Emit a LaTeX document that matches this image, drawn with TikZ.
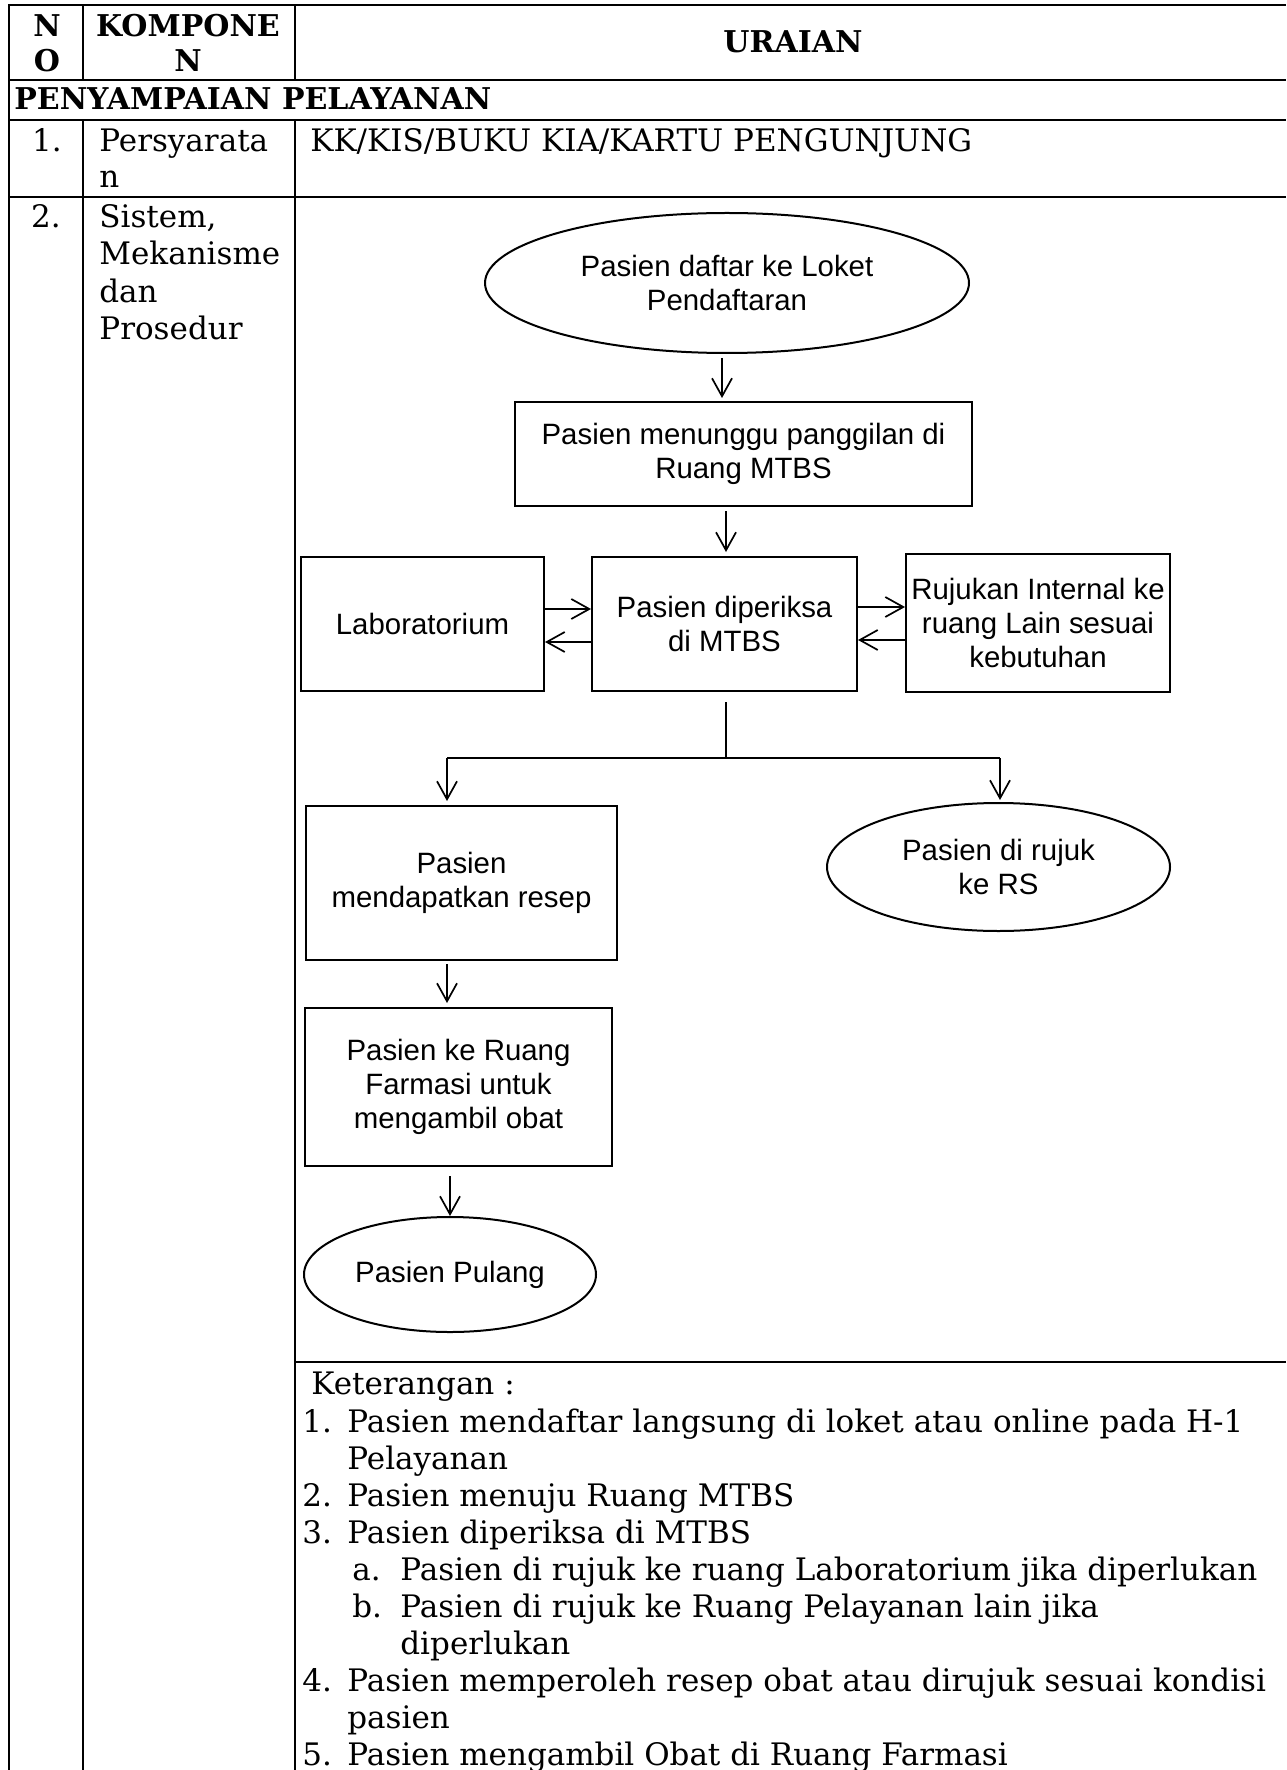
\documentclass[tikz,border=0pt]{standalone}
\usepackage{fontspec}
\setmainfont{DejaVu Serif}
\newfontfamily\arialf{Liberation Sans}
\usetikzlibrary{shapes.geometric,arrows.meta}
\begin{document}
\begin{tikzpicture}[x=0.5pt,y=-0.5pt,
  tline/.style={line width=1.15pt},
  cline/.style={line width=0.85pt},
  arr/.style={cline,-{Straight Barb[length=9pt,width=10pt]}},
  fbox/.style={draw,rectangle,line width=1pt,align=center,inner sep=0pt,
    font=\arialf\fontsize{14.7}{17}\selectfont},
  fell/.style={draw,ellipse,line width=1pt,align=center,inner sep=0pt,
    font=\arialf\fontsize{14.7}{17}\selectfont},
  txt/.style={anchor=base west,inner sep=0pt,font=\fontsize{15.5}{18}\selectfont},
  ctxt/.style={anchor=base,inner sep=0pt,font=\fontsize{15.5}{18}\selectfont},
  hd/.style={anchor=base,inner sep=0pt,font=\fontsize{15}{18}\selectfont\bfseries},
]
\useasboundingbox (0,0) rectangle (1286,1770);
\fill[white] (0,0) rectangle (1286,1770);

% ---- table grid ----
\draw[tline] (9,1770) -- (9,5) -- (1286,5);
\draw[tline] (9,80) -- (1286,80);
\draw[tline] (9,120) -- (1286,120);
\draw[tline] (9,197) -- (1286,197);
\draw[tline] (295,1362) -- (1286,1362);
\draw[tline] (83,5) -- (83,80);
\draw[tline] (83,120) -- (83,1770);
\draw[tline] (295,5) -- (295,80);
\draw[tline] (295,120) -- (295,1770);

% ---- header texts ----
\node[hd] (hN) at (47,37) {N};
\node[hd] (hO) at (47,72) {O};
\node[hd] (hK1) at (188,37) {KOMPONE};
\node[hd] (hK2) at (188,72) {N};
\node[hd] (hU) at (793,53) {URAIAN};
\node[hd,anchor=base west] (hS) at (14,110) {PENYAMPAIAN PELAYANAN};

% ---- row 1 ----
\node[ctxt] (r1n) at (47,152) {1.};
\node[txt] (r1a) at (99,152) {Persyarata};
\node[txt] (r1b) at (99,188) {n};
\node[txt] (r1u) at (310,152) {KK/KIS/BUKU KIA/KARTU PENGUNJUNG};

% ---- row 2 ----
\node[ctxt] (r2n) at (46,228) {2.};
\node[txt] (r2a) at (99,228) {Sistem,};
\node[txt] (r2b) at (99,265) {Mekanisme};
\node[txt] (r2c) at (99,303) {dan};
\node[txt] (r2d) at (99,340) {Prosedur};

% ---- flowchart ----
\node[fell,minimum width=242pt,minimum height=70pt] (E1) at (727,283) {Pasien daftar ke Loket\\Pendaftaran};
\node[fbox,minimum width=228.5pt,minimum height=52pt] (B1) at (743.5,454) {Pasien menunggu panggilan di\\Ruang MTBS};
\node[fbox,minimum width=132.5pt,minimum height=67pt] (MT) at (724.5,624) {Pasien diperiksa\\di MTBS};
\node[fbox,minimum width=121.5pt,minimum height=67pt] (LAB) at (422.5,624) {Laboratorium};
\node[fbox,minimum width=132pt,minimum height=69pt] (RUJ) at (1038,623) {Rujukan Internal ke\\ruang Lain sesuai\\kebutuhan};
\node[fbox,minimum width=155.5pt,minimum height=77pt] (RES) at (461.5,883) {Pasien\\mendapatkan resep};
\node[fell,minimum width=171.5pt,minimum height=64pt] (RS) at (998.5,867) {Pasien di rujuk\\ke RS};
\node[fbox,minimum width=153.5pt,minimum height=79pt] (FAR) at (458.5,1087) {Pasien ke Ruang\\Farmasi untuk\\mengambil obat};
\node[fell,minimum width=146pt,minimum height=57.5pt] (PUL) at (450,1274.5) {Pasien Pulang};

\coordinate (jM) at (726,758);
\coordinate (jL) at (447,758);
\coordinate (jR) at (1000,758);

\draw[arr] ([xshift=-2.5pt,yshift=-2pt]E1.south) -- ([xshift=-2.5pt,yshift=1.5pt]E1.south |- B1.north);
\draw[arr] ([yshift=-2pt]jM |- B1.south) -- ([yshift=2pt]jM |- MT.north);
\draw[arr] ([yshift=7.5pt]LAB.east) -- ([yshift=7.5pt]LAB.east -| MT.west);
\draw[arr] ([yshift=-9pt]MT.west) -- ([yshift=-9pt]MT.west -| LAB.east);
\draw[arr] ([yshift=8.5pt]MT.east) -- ([yshift=8.5pt]MT.east -| RUJ.west);
\draw[arr] ([yshift=-8.5pt]RUJ.west) -- ([yshift=-8.5pt]RUJ.west -| MT.east);
\draw[cline] ([yshift=-5pt]jM |- MT.south) -- (jM);
\draw[cline] (jL) -- (jR);
\draw[arr] (jL) -- ([yshift=2pt]jL |- RES.north);
\draw[arr] (jR) -- ([yshift=1pt]jR |- RS.north);
\draw[arr] ([yshift=-1.5pt]jL |- RES.south) -- ([yshift=2pt]jL |- FAR.north);
\draw[arr] ([yshift=-4.5pt]FAR.south -| PUL.north) -- (PUL.north);

% ---- keterangan ----
\node[txt] (ket) at (311,1394) {Keterangan :};
\node[txt] (k1n) at (302,1432) {1.};
\node[txt] (k1) at (347,1432) {Pasien mendaftar langsung di loket atau online pada H-1};
\node[txt] (k1b) at (347,1469) {Pelayanan};
\node[txt] (k2n) at (302,1506) {2.};
\node[txt] (k2) at (347,1506) {Pasien menuju Ruang MTBS};
\node[txt] (k3n) at (302,1543) {3.};
\node[txt] (k3) at (347,1543) {Pasien diperiksa di MTBS};
\node[txt] (kan) at (352,1580) {a.};
\node[txt] (ka) at (400,1580) {Pasien di rujuk ke ruang Laboratorium jika diperlukan};
\node[txt] (kbn) at (352,1617) {b.};
\node[txt] (kb) at (400,1617) {Pasien di rujuk ke Ruang Pelayanan lain jika};
\node[txt] (kb2) at (400,1654) {diperlukan};
\node[txt] (k4n) at (302,1691) {4.};
\node[txt] (k4) at (347,1691) {Pasien memperoleh resep obat atau dirujuk sesuai kondisi};
\node[txt] (k4b) at (347,1728) {pasien};
\node[txt] (k5n) at (302,1765) {5.};
\node[txt] (k5) at (347,1765) {Pasien mengambil Obat di Ruang Farmasi};
\end{tikzpicture}
\end{document}
